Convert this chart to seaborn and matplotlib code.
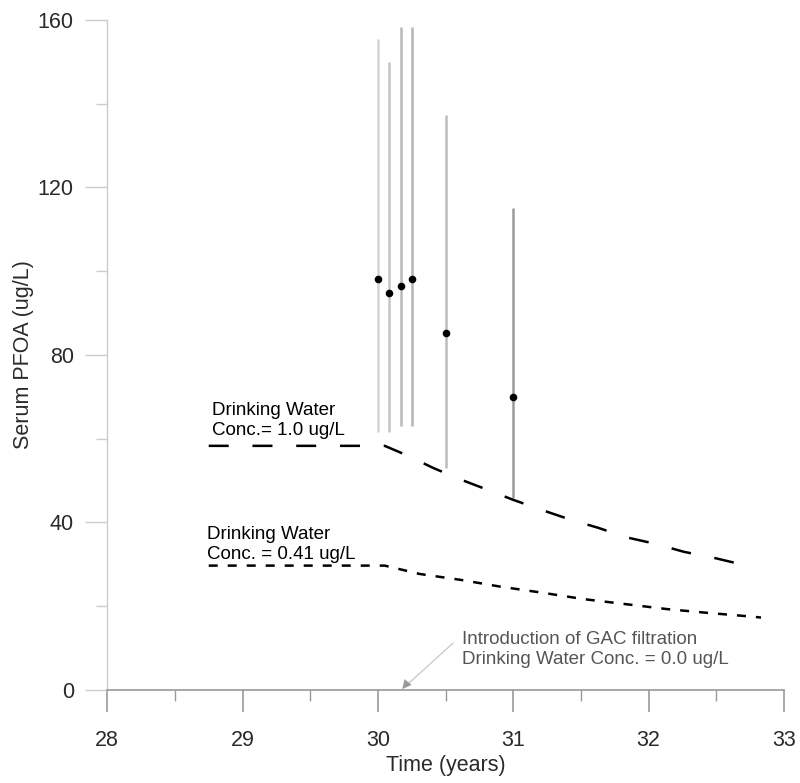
import matplotlib
matplotlib.use("Agg")
import matplotlib.pyplot as plt
import seaborn as sns
import pandas as pd

# ---- data ----
obs_time = [30.0, 30.083, 30.167, 30.25, 30.5, 31.0]
obs_mean = [98.1, 94.8, 96.5, 98.1, 85.2, 70.0]
obs_low = [61.7, 61.7, 63.0, 63.0, 53.0, 45.9]
obs_high = [155.5, 150.0, 158.4, 158.4, 137.3, 115.0]

hi_time = [28.75, 29.5, 30.05, 30.21, 30.41, 30.60, 30.81, 31.0, 31.21, 31.41,
           31.63, 31.83, 32.05, 32.26, 32.49, 32.71]
hi_serum = [58.3, 58.3, 58.3, 56.1, 53.0, 50.4, 47.8, 45.4, 43.0, 40.8,
            38.7, 36.5, 34.9, 33.0, 31.5, 29.8]

lo_time = [28.75, 29.5, 30.05, 30.31, 30.61, 30.90, 31.22, 31.52, 31.83,
           32.14, 32.44, 32.77, 32.83]
lo_serum = [29.7, 29.7, 29.7, 27.7, 26.3, 24.7, 23.2, 21.7, 20.5,
            19.3, 18.4, 17.5, 17.3]

x_ticks = [28, 29, 30, 31, 32, 33]
y_ticks = [0, 40, 80, 120, 160]

hi_label = "Drinking Water\nConc.= 1.0 ug/L"
lo_label = "Drinking Water\nConc. = 0.41 ug/L"
gac_label = "Introduction of GAC filtration\nDrinking Water Conc. = 0.0 ug/L"
gac_time = 30.18

# ---- style ----
sns.set_theme(style="white")
plt.rcParams["font.family"] = ["Liberation Sans", "DejaVu Sans"]
txt = "#2a2a2a"

fig = plt.figure(figsize=(8.0, 7.83), dpi=100)
ax = fig.add_axes([0.134, 0.1188, 0.846, 0.8557])

bar_colors = ["#d4d4d4", "#c4c4c4", "#b8b8b8", "#b4b4b4", "#bcbcbc", "#9a9a9a"]
for t, lo, hi, c in zip(obs_time, obs_low, obs_high, bar_colors):
    ax.vlines(t, lo, hi, color=c, lw=1.8, zorder=2)

df_hi = pd.DataFrame({"t": hi_time, "s": hi_serum})
df_lo = pd.DataFrame({"t": lo_time, "s": lo_serum})
sns.lineplot(data=df_hi, x="t", y="s", ax=ax, color="black", lw=1.8,
             linestyle=(0, (8.0, 9.5)), zorder=3)
sns.lineplot(data=df_lo, x="t", y="s", ax=ax, color="black", lw=1.8,
             linestyle=(0, (3.6, 4.0)), zorder=3)

df_obs = pd.DataFrame({"t": obs_time, "s": obs_mean})
sns.scatterplot(data=df_obs, x="t", y="s", ax=ax, color="black", s=30,
                edgecolor="black", linewidth=0, zorder=4)

ax.text(28.775, 60.0, hi_label, fontsize=13.5, color="black", va="bottom",
        ha="left")
ax.text(28.735, 30.3, lo_label, fontsize=13.5, color="black", va="bottom",
        ha="left")
ax.text(30.62, 5.3, gac_label, fontsize=13.5, color="#555555", ha="left",
        va="bottom")
ax.annotate("", xy=(gac_time, 0.2), xytext=(30.555, 11.2),
            arrowprops=dict(arrowstyle="-", color="#cccccc", lw=1.0,
                            shrinkA=0, shrinkB=6))
ax.annotate("", xy=(gac_time, 0.2), xytext=(30.24, 2.6),
            arrowprops=dict(arrowstyle="-|>", color="#999999", lw=0.1,
                            mutation_scale=16, shrinkA=0, shrinkB=0))

ax.set_xlim(28, 33)
ax.set_ylim(0, 160)
ax.set_xticks(x_ticks)
ax.set_yticks(y_ticks)
ax.set_xticks([28.5, 29.5, 30.5, 31.5, 32.5], minor=True)
ax.set_yticks([20, 60, 100, 140], minor=True)
ax.set_xticklabels([str(v) for v in x_ticks])
ax.set_yticklabels([str(v) for v in y_ticks])

for s in ["top", "right"]:
    ax.spines[s].set_visible(False)
ax.spines["left"].set_color("#cccccc")
ax.spines["left"].set_linewidth(1.0)
ax.spines["bottom"].set_color("#999999")
ax.spines["bottom"].set_linewidth(1.2)

ax.tick_params(axis="x", which="major", direction="out", length=16, width=1.2,
               color="#999999", labelsize=15.5, labelcolor=txt, pad=13, bottom=True)
ax.tick_params(axis="x", which="minor", direction="out", length=8, width=1.0,
               color="#999999", bottom=True)
ax.tick_params(axis="y", which="major", direction="out", length=16, width=1.0,
               color="#cccccc", labelsize=15.5, labelcolor=txt, pad=8, left=True)
ax.tick_params(axis="y", which="minor", direction="out", length=8, width=1.0,
               color="#cccccc", left=True)

ax.set_xlabel("Time (years)", fontsize=15.5, color=txt, labelpad=3)
ax.set_ylabel("Serum PFOA (ug/L)", fontsize=15.5, color=txt, labelpad=3)

fig.savefig("out.png", dpi=100)
